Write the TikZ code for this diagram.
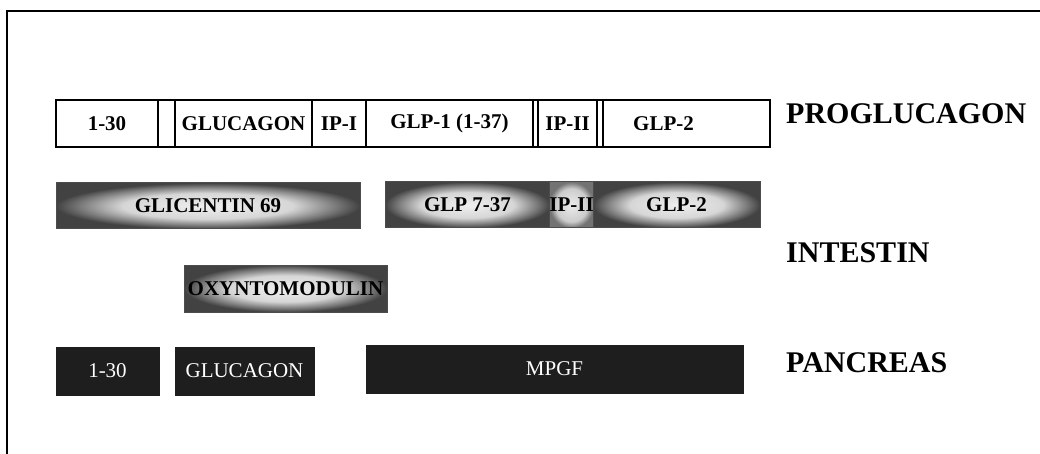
\documentclass[tikz,border=0pt]{standalone}
\usepackage{fontspec}
\setmainfont{Liberation Serif}
\colorlet{glowA}{gray!12}
\colorlet{glowB}{gray!32}
\colorlet{glowC}{black!52}
\colorlet{glowD}{black!74}
\colorlet{lightA}{gray!15}
\colorlet{lightB}{gray!40}
\colorlet{lightC}{black!55}
\pgfdeclareradialshading{glow}{\pgfpoint{0bp}{0bp}}{color(0bp)=(glowA); color(14bp)=(glowB); color(21bp)=(glowC); color(25bp)=(glowD); color(50bp)=(glowD)}
\pgfdeclareradialshading{lightglow}{\pgfpoint{0bp}{0bp}}{color(0bp)=(lightA); color(18bp)=(lightB); color(25bp)=(lightC); color(50bp)=(lightC)}
\definecolor{pancblack}{HTML}{1E1E1E}
\begin{document}
\begin{tikzpicture}[x=1pt,y=-1pt,
  seg/.style={draw=black, line width=1.2pt, fill=white, inner sep=0pt, outer sep=0pt,
    minimum height=47pt, font=\fontsize{21}{24}\selectfont\bfseries},
  glowbox/.style={draw=black!70, line width=1pt, shading=glow, inner sep=0pt, outer sep=0pt,
    minimum height=46pt, font=\fontsize{21}{24}\selectfont\bfseries},
  pbox/.style={fill=pancblack, draw=pancblack, text=white, inner sep=0pt, outer sep=0pt,
    minimum height=48pt, font=\fontsize{21}{24}\selectfont},
  rowlabel/.style={anchor=west, inner sep=0pt, font=\fontsize{30}{34}\selectfont\bfseries}]
\useasboundingbox (0,0) rectangle (1040,454);
\draw[line width=2pt] (7,454) -- (7,11) -- (1040,11);

% PROGLUCAGON row
\node[seg, minimum width=102pt] (a1) at (107,123.5) {1-30};
\node[seg, minimum width=17pt] (a2) at (166.5,123.5) {};
\node[seg, minimum width=137pt] (a3) at (243.5,123.5) {GLUCAGON};
\node[seg, minimum width=54pt] (a4) at (339,123.5) {IP-I};
\node[seg, minimum width=167pt] (a5) at (449.5,123.5) {GLP-1 (1-37)};
\node[seg, minimum width=5pt] (a6) at (535.5,123.5) {};
\node[seg, minimum width=59pt] (a7) at (567.5,123.5) {IP-II};
\node[seg, minimum width=6pt] (a8) at (600,123.5) {};
\node[seg, minimum width=167pt, label={[font=\fontsize{21}{24}\selectfont\bfseries, xshift=-23pt]center:GLP-2}] (a9) at (686.5,123.5) {};
\node[rowlabel] (lp) at (786,114) {PROGLUCAGON};

% INTESTIN row
\node[glowbox, minimum width=304pt] (b1) at (208,206) {GLICENTIN 69};
\node[glowbox, minimum width=165pt] (b2) at (467.5,205) {GLP 7-37};
\node[glowbox, shading=lightglow, minimum width=43pt] (b3) at (571.5,205) {IP-II};
\node[glowbox, minimum width=167pt] (b4) at (676.5,205) {GLP-2};
\node[glowbox, minimum width=203pt, minimum height=47pt] (b5) at (285.5,288.5) {OXYNTOMODULIN};
\node[rowlabel] (li) at (786,253) {INTESTIN};

% PANCREAS row
\node[pbox, minimum width=103pt] (c1) at (107.5,371) {1-30};
\node[pbox, minimum width=139pt] (c2) at (244.5,371) {GLUCAGON};
\node[pbox, minimum width=377pt] (c3) at (554.5,369) {MPGF};
\node[rowlabel] (lc) at (786,363) {PANCREAS};
\end{tikzpicture}
\end{document}
